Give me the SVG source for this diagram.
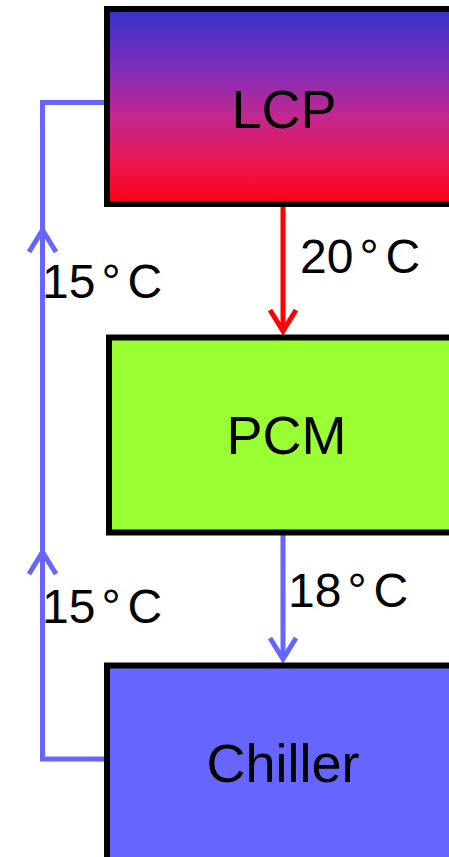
<svg xmlns="http://www.w3.org/2000/svg" width="449" height="857" viewBox="0 0 449 857">
<defs>
<linearGradient id="lcpGrad" x1="0" y1="0" x2="0" y2="1">
<stop offset="0" stop-color="#3633c9"/>
<stop offset="0.3" stop-color="#7d2dbb"/>
<stop offset="0.55" stop-color="#c2288f"/>
<stop offset="0.8" stop-color="#ec1650"/>
<stop offset="1" stop-color="#ff0012"/>
</linearGradient>
<style>
.box{stroke:#000;stroke-width:6}
.lbl{font-family:"Liberation Sans",Arial,sans-serif;font-size:48px;fill:#000}
.name{font-family:"Liberation Sans",Arial,sans-serif;font-size:54px;fill:#000;text-anchor:middle}
.blue{stroke:#6666ff;stroke-width:5;fill:none}
.red{stroke:#ff0000;stroke-width:5;fill:none}
</style>
</defs>
<g id="connectors">
<polyline class="blue" points="104,102.5 42.5,102.5 42.5,759 104,759"/>
<polyline class="blue" points="29,252 42.5,230 56,252"/>
<polyline class="blue" points="29,574 42.5,552 56,574"/>
<line class="red" x1="283" y1="204" x2="283" y2="331"/>
<polyline class="red" points="270,310 283,331 296,310"/>
<line class="blue" x1="283" y1="532" x2="283" y2="659"/>
<polyline class="blue" points="270,638 283,659 296,638"/>
<text class="lbl" x="300" y="273">20<tspan dx="6">°</tspan><tspan dx="7">C</tspan></text>
<text class="lbl" x="42" y="298">15<tspan dx="6">°</tspan><tspan dx="7">C</tspan></text>
<text class="lbl" x="288" y="607">18<tspan dx="6">°</tspan><tspan dx="7">C</tspan></text>
<text class="lbl" x="42" y="623">15<tspan dx="6">°</tspan><tspan dx="7">C</tspan></text>
</g>
<g id="LCP">
<rect class="box" x="107" y="9" width="400" height="195" fill="url(#lcpGrad)"/>
<text class="name" x="284" y="128">LCP</text>
</g>
<g id="PCM">
<rect class="box" x="109" y="337.5" width="400" height="195" fill="#99ff33"/>
<text class="name" x="286.5" y="454">PCM</text>
</g>
<g id="Chiller">
<rect class="box" x="107" y="665.5" width="400" height="300" fill="#6666ff"/>
<text class="name" x="283" y="782">Chiller</text>
</g>
</svg>
